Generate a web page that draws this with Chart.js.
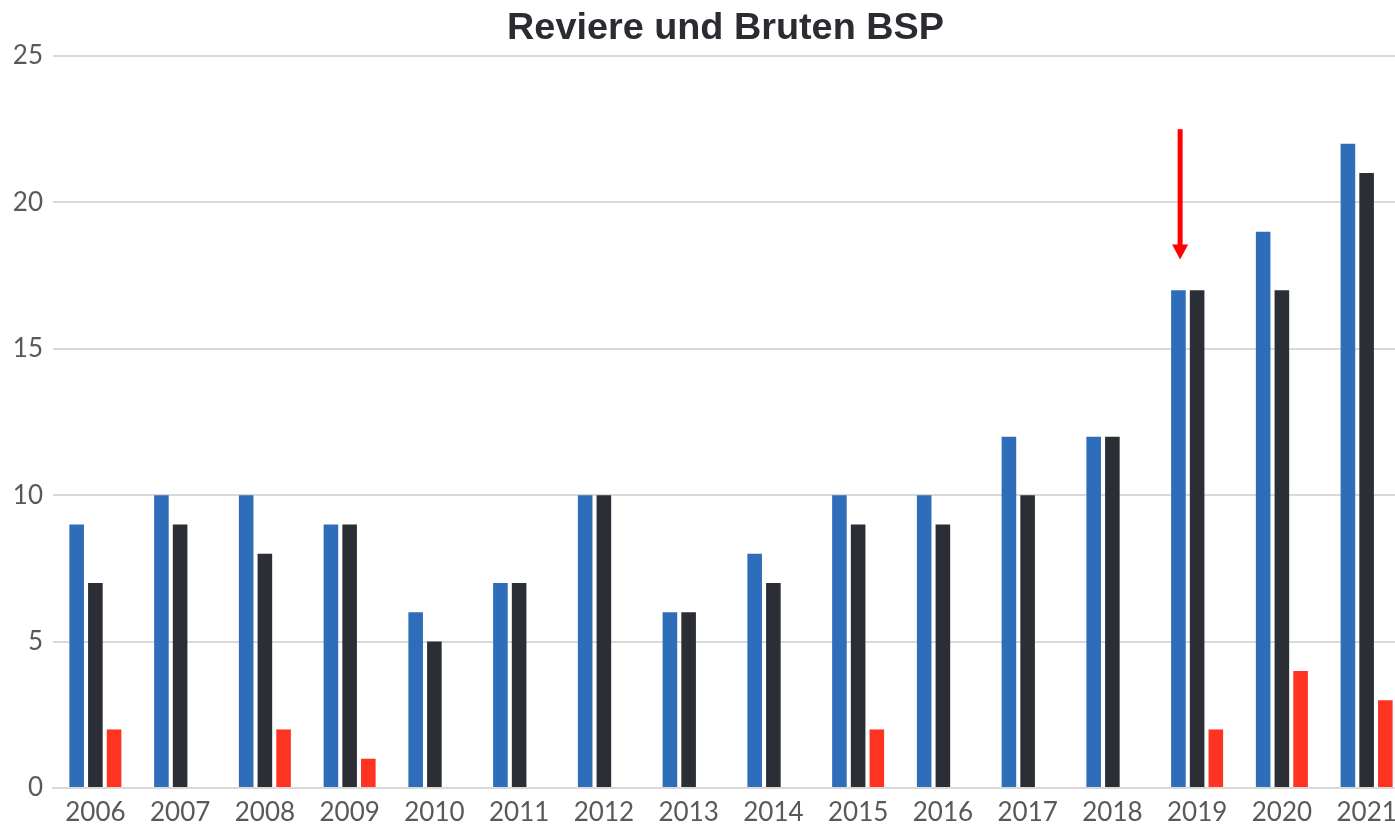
<!DOCTYPE html>
<html>
<head>
<meta charset="utf-8">
<script src="https://cdn.jsdelivr.net/npm/chart.js@4.4.1/dist/chart.umd.min.js"></script>
<style>
  html, body { margin: 0; padding: 0; background: #fff; overflow: hidden; }
  #wrap { width: 1409px; height: 825px; }
</style>
</head>
<body>
<div id="wrap"><canvas id="chart"></canvas></div>
<script>
const years = ['2006', '2007', '2008', '2009', '2010', '2011', '2012', '2013',
               '2014', '2015', '2016', '2017', '2018', '2019', '2020', '2021'];
const reviere = [9, 10, 10, 9, 6, 7, 10, 6, 8, 10, 10, 12, 12, 17, 19, 22];
const bruten = [7, 9, 8, 9, 5, 7, 10, 6, 7, 9, 9, 10, 12, 17, 17, 21];
const dritte = [2, 0, 2, 1, 0, 0, 0, 0, 0, 2, 0, 0, 0, 2, 4, 3];
const yTicks = [0, 5, 10, 15, 20, 25];
const titleText = 'Reviere und Bruten BSP';

// red arrow over 2019 (in data units)
const arrowYear = '2019';
const arrowFrom = 22.5;
const arrowTo = 18.05;

const arrowPlugin = {
    id: 'arrow',
    afterDatasetsDraw(chart) {
        const x = chart.scales.x.getPixelForValue(years.indexOf(arrowYear)) - 17;
        const y1 = chart.scales.y.getPixelForValue(arrowFrom);
        const y2 = chart.scales.y.getPixelForValue(arrowTo);
        const c = chart.ctx;
        c.save();
        c.strokeStyle = '#ff0000';
        c.fillStyle = '#ff0000';
        c.lineWidth = 5;
        c.beginPath();
        c.moveTo(x, y1);
        c.lineTo(x, y2 - 14);
        c.stroke();
        c.beginPath();
        c.moveTo(x - 8, y2 - 15);
        c.lineTo(x + 8, y2 - 15);
        c.lineTo(x, y2);
        c.closePath();
        c.fill();
        c.restore();
    }
};

// title sits a little right of the canvas centre, like the original
const titlePlugin = {
    id: 'titleText',
    afterDraw(chart) {
        const c = chart.ctx;
        c.save();
        c.fillStyle = '#2a2c31';
        c.font = 'bold 37.8px "Liberation Sans", Arial, sans-serif';
        c.textAlign = 'center';
        c.textBaseline = 'alphabetic';
        c.fillText(titleText, 725.5, 39);
        c.restore();
    }
};

new Chart(document.getElementById('chart'), {
    type: 'bar',
    data: {
        labels: years,
        datasets: [
            { label: 'Reviere', data: reviere, backgroundColor: '#2E6DB9' },
            { label: 'Bruten', data: bruten, backgroundColor: '#2B2E35' },
            { label: 'Dritte', data: dritte, backgroundColor: '#FF3322' }
        ]
    },
    options: {
        responsive: true,
        maintainAspectRatio: false,
        animation: false,
        datasets: {
            bar: { categoryPercentage: 0.662, barPercentage: 0.78 }
        },
        layout: { padding: { left: 0, right: 0, top: 56, bottom: 0 } },
        plugins: {
            legend: { display: false },
            tooltip: { enabled: false },
            title: { display: false }
        },
        scales: {
            x: {
                afterFit(scale) { scale.height = 37; },
                grid: { display: false },
                border: { color: '#d9d9d9', width: 2 },
                ticks: {
                    color: '#595959',
                    font: { family: 'Lato', size: 26 },
                    padding: 1,
                    maxRotation: 0
                }
            },
            y: {
                min: 0,
                max: 25,
                afterBuildTicks(scale) {
                    scale.ticks = yTicks.map(v => ({ value: v }));
                },
                afterFit(scale) { scale.width = 53; },
                grid: { color: '#d9d9d9', lineWidth: 2, drawTicks: false },
                border: { display: false },
                ticks: {
                    color: '#595959',
                    font: { family: 'Lato', size: 26 },
                    padding: 10
                }
            }
        }
    },
    plugins: [arrowPlugin, titlePlugin]
});
</script>
</body>
</html>
